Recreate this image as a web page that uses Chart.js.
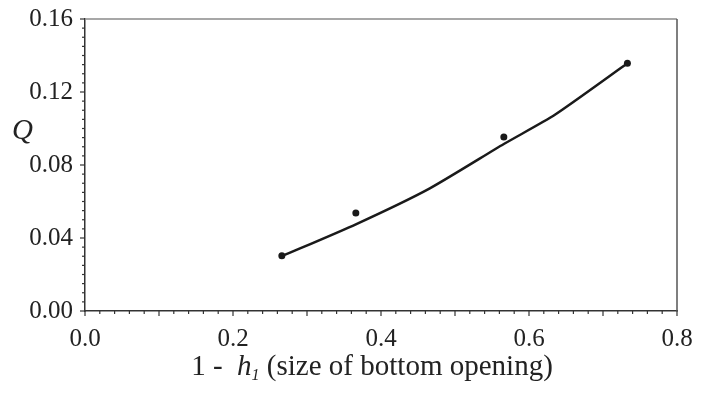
<!DOCTYPE html>
<html>
<head>
<meta charset="utf-8">
<script src="https://cdn.jsdelivr.net/npm/chart.js@4/dist/chart.umd.min.js"></script>
<style>
  html, body { margin: 0; padding: 0; background: #fff; }
  #wrap { width: 709px; height: 396px; }
</style>
</head>
<body>
<div id="wrap"><canvas id="chart" width="709" height="396"></canvas></div>
<script>
// measured points (dots)
const pointX = [0.266, 0.366, 0.566, 0.733];
const pointY = [0.0303, 0.0537, 0.0953, 0.1357];

// fitted curve (polyline)
const lineX = [0.266, 0.366, 0.466, 0.566, 0.635, 0.733];
const lineY = [0.0300, 0.0475, 0.0672, 0.0915, 0.1075, 0.1357];

// axis ranges / tick steps
const xRange = [0, 0.8];
const yRange = [0, 0.16];
const xMinorStep = 0.02, xMajorStep = 0.2;
const yMinorStep = 0.005, yMajorStep = 0.04;

const serif = '"Liberation Serif", "Times New Roman", serif';

function isMajor(v, step) {
    const r = v / step;
    return Math.abs(r - Math.round(r)) < 1e-6;
}

// draws tick marks (long majors, short minors), the frame and the axis titles
const decorPlugin = {
    id: 'decor',
    afterDraw(chart) {
        const ctx = chart.ctx;
        const area = chart.chartArea;
        const xs = chart.scales.x, ys = chart.scales.y;
        ctx.save();

        // top and right frame
        ctx.lineWidth = 1.5;
        ctx.strokeStyle = '#8a8a8a';
        ctx.beginPath();
        ctx.moveTo(area.left, area.top);
        ctx.lineTo(area.right, area.top);
        ctx.stroke();
        ctx.strokeStyle = '#555';
        ctx.beginPath();
        ctx.moveTo(area.right, area.top);
        ctx.lineTo(area.right, area.bottom);
        ctx.stroke();

        // ticks
        ctx.strokeStyle = '#333';
        ctx.lineWidth = 1.2;
        xs.ticks.forEach(t => {
            const px = xs.getPixelForValue(t.value);
            const len = isMajor(t.value, 0.1) ? 5 : 3;
            ctx.beginPath();
            ctx.moveTo(px, area.bottom);
            ctx.lineTo(px, area.bottom + len);
            ctx.stroke();
        });
        ys.ticks.forEach(t => {
            const py = ys.getPixelForValue(t.value);
            const len = isMajor(t.value, yMajorStep) ? 5 : 3;
            ctx.beginPath();
            ctx.moveTo(area.left, py);
            ctx.lineTo(area.left - len, py);
            ctx.stroke();
        });

        // y title
        ctx.fillStyle = '#222';
        ctx.textBaseline = 'alphabetic';
        ctx.textAlign = 'left';
        ctx.font = 'italic 29px ' + serif;
        ctx.fillText('Q', 12, 139);

        // x title with subscript
        const parts = [
            { text: '1 -  ', font: '29px ' + serif, dy: 0 },
            { text: 'h', font: 'italic 29px ' + serif, dy: 0 },
            { text: '1', font: 'italic 16px ' + serif, dy: 5 },
            { text: ' (size of bottom opening)', font: '29px ' + serif, dy: 0 }
        ];
        let total = 0;
        parts.forEach(p => { ctx.font = p.font; p.w = ctx.measureText(p.text).width; total += p.w; });
        let x = 372 - total / 2;
        const base = 375;
        parts.forEach(p => {
            ctx.font = p.font;
            ctx.fillText(p.text, x, base + p.dy);
            x += p.w;
        });
        ctx.restore();
    }
};

const ctx = document.getElementById('chart').getContext('2d');
new Chart(ctx, {
    type: 'scatter',
    data: {
        datasets: [{
            label: 'curve',
            data: lineX.map((x, i) => ({ x: x, y: lineY[i] })),
            showLine: true,
            borderColor: '#1a1a1a',
            borderWidth: 2.5,
            pointRadius: 0,
            tension: 0.2,
            fill: false
        }, {
            label: 'points',
            data: pointX.map((x, i) => ({ x: x, y: pointY[i] })),
            showLine: false,
            pointRadius: 3.5,
            pointBackgroundColor: '#1a1a1a',
            pointBorderColor: '#1a1a1a',
            pointBorderWidth: 0
        }]
    },
    options: {
        responsive: false,
        animation: false,
        layout: { padding: { top: 19, right: 32, left: 0, bottom: 0 } },
        plugins: {
            legend: { display: false },
            tooltip: { enabled: false }
        },
        scales: {
            x: {
                type: 'linear',
                min: xRange[0],
                max: xRange[1],
                afterFit(scale) {
                    scale.height = 85;
                    scale.paddingLeft = 0;
                    scale.paddingRight = 0;
                },
                border: { display: true, color: '#333', width: 1.5 },
                grid: { display: true, drawOnChartArea: false, drawTicks: false },
                ticks: {
                    stepSize: xMinorStep,
                    maxTicksLimit: 100,
                    autoSkip: false,
                    maxRotation: 0,
                    padding: 13,
                    color: '#222',
                    font: { family: serif, size: 25 },
                    callback: v => isMajor(v, xMajorStep) ? v.toFixed(1) : ''
                }
            },
            y: {
                type: 'linear',
                min: yRange[0],
                max: yRange[1],
                afterFit(scale) {
                    scale.width = 85;
                    scale.paddingTop = 0;
                    scale.paddingBottom = 0;
                },
                border: { display: true, color: '#333', width: 1.5 },
                grid: { display: true, drawOnChartArea: false, drawTicks: false },
                ticks: {
                    stepSize: yMinorStep,
                    maxTicksLimit: 100,
                    autoSkip: false,
                    padding: 12,
                    color: '#222',
                    font: { family: serif, size: 25 },
                    callback: v => isMajor(v, yMajorStep) ? v.toFixed(2) : ''
                }
            }
        }
    },
    plugins: [decorPlugin]
});
</script>
</body>
</html>
